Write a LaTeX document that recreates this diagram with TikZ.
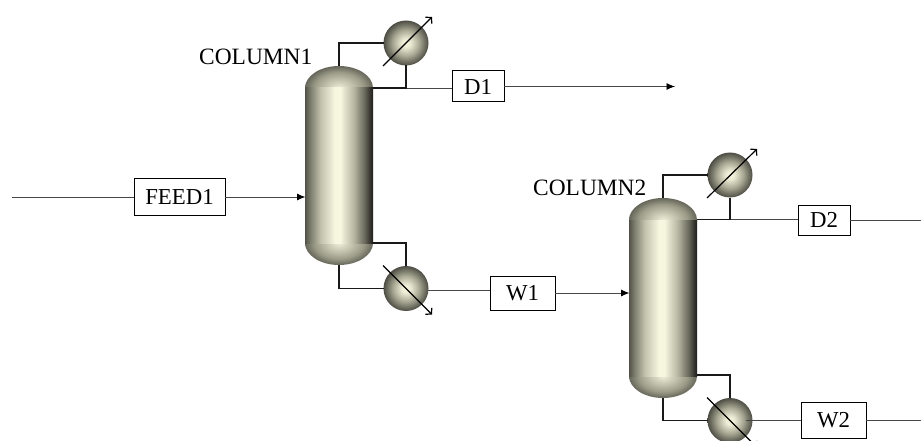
\documentclass[tikz,border=0pt]{standalone}
\usepackage{fontspec}
\setmainfont{Liberation Serif}
\usetikzlibrary{arrows.meta,calc}
\definecolor{ivory}{HTML}{F7F7E0}
\definecolor{rimA}{HTML}{66665A}
\definecolor{midA}{HTML}{A4A490}
\pgfdeclarehorizontalshading{colshade}{100bp}{color(0bp)=(rimA!80!black); color(25bp)=(rimA!80!black); color(29bp)=(rimA!60!midA); color(37bp)=(midA!60!ivory); color(47bp)=(ivory); color(51bp)=(ivory); color(61bp)=(midA!80!ivory); color(69bp)=(rimA); color(73bp)=(rimA!50!black); color(75bp)=(rimA!30!black); color(100bp)=(rimA!30!black)}
\pgfdeclareradialshading{domeshade}{\pgfpointorigin}{color(0bp)=(ivory!90!midA); color(9bp)=(midA!60!ivory); color(18bp)=(midA!85!rimA); color(25bp)=(rimA); color(50bp)=(rimA)}
\pgfdeclareradialshading{ballshade}{\pgfpointorigin}{color(0bp)=(ivory); color(5bp)=(ivory!85!midA); color(15bp)=(midA); color(25bp)=(rimA!75!black); color(50bp)=(rimA!75!black)}
\tikzset{
  x=1pt,y=-1pt,
  stream/.style={draw=black!72,line width=0.9pt},
  pipe/.style={draw=black!90,line width=1.1pt},
  streamto/.style={stream,-{Latex[length=8.5pt,width=7pt,black]}},
  tag/.style={draw=black,line width=1pt,fill=white,inner sep=0pt,outer sep=0pt,font=\fontsize{22.8}{24}\selectfont},
  hx/.style={circle,inner sep=0pt,outer sep=0pt,minimum size=45pt,shading=ballshade},
  vessel/.style={inner sep=0pt,outer sep=0pt,minimum width=67pt,minimum height=199pt},
  duty/.style={draw=black,line width=1.2pt,-{Straight Barb[length=4pt,width=9pt,line width=1.2pt]}},
  lab/.style={inner sep=0pt,font=\fontsize{23.4}{25}\selectfont},
}
\newcommand{\drawvessel}[3]{% x-centre, top y, bottom y
  \begin{scope}
    \clip (#1-34,#2) rectangle (#1+34,#2+22);
    \shade[shading=domeshade] (#1,#2+22) ellipse [x radius=34,y radius=22];
  \end{scope}
  \begin{scope}
    \clip (#1-34,#3-22) rectangle (#1+34,#3);
    \shade[shading=domeshade] (#1,#3-22) ellipse [x radius=34,y radius=22];
  \end{scope}
  \shade[shading=colshade] (#1-34,#2+22) rectangle (#1+34,#3-22);
}
\begin{document}
\begin{tikzpicture}
\path[clip] (0,0) rectangle (921,441);
\fill[white] (0,0) rectangle (921,441);

% anchors
\node[vessel] (col1) at (339,165.5) {};
\node[vessel] (col2) at (663,298) {};
\coordinate (top1) at (372,88);
\coordinate (bot1) at (372,243);
\coordinate (top2) at (697,219.5);
\coordinate (bot2) at (697,375);
\coordinate (feedin) at (12,197);
\coordinate (d1out) at (675,86.5);
\coordinate (d2out) at (921,220);
\coordinate (w2out) at (921,420.5);

\node[hx] (cond1) at (406,43) {};
\node[hx] (reb1) at (406,288.5) {};
\node[hx] (cond2) at (730,175) {};
\node[hx] (reb2) at (730,420.5) {};

\node[tag,minimum width=91pt,minimum height=37pt] (feed) at (179.5,197) {FEED1};
\node[tag,minimum width=52pt,minimum height=31pt] (d1) at (478,86.5) {D1};
\node[tag,minimum width=65pt,minimum height=34pt] (w1) at (522.5,293) {W1};
\node[tag,minimum width=52pt,minimum height=30pt] (d2) at (824,220) {D2};
\node[tag,minimum width=65pt,minimum height=36pt] (w2) at (833.5,420.5) {W2};

\node[lab,anchor=west] (lab1) at (199,57) {COLUMN1};
\node[lab,anchor=west] (lab2) at (533,188) {COLUMN2};

% stream lines
\draw[stream] (feedin) -- (feed.west);
\draw[streamto] (feed.east) -- (col1.west |- feed.east);
\draw[stream] (cond1.south |- top1) -- (top1 -| d1.west);
\draw[streamto] (d1.east) -- (d1out);
\draw[stream] (reb1.-6) -- (reb1.-6 -| w1.west);
\draw[streamto] (w1.east) -- (col2.west |- w1.east);
\draw[stream] (cond2.south |- top2) -- (top2 -| d2.west);
\draw[stream] (d2.east) -- (d2out);
\draw[stream] (w2.east) -- (w2out);

% reflux and boil-up pipes
\draw[pipe] (col1.north) |- (cond1.west);
\draw[pipe] (cond1.south) |- (top1);
\draw[pipe] (bot1) -| (reb1.north);
\draw[pipe] (col1.south) |- (reb1.west);
\draw[pipe] (col2.north) |- (cond2.west);
\draw[pipe] (cond2.south) |- (top2);
\draw[pipe] (bot2) -| (reb2.north);
\draw[pipe] (col2.south) |- (reb2.west);

% vessels
\drawvessel{339}{66}{265}
\drawvessel{663}{198}{398}

% outlet of the second reboiler starts inside the ball
\draw[stream] ($(reb2.center)+(16,0)$) -- (w2.west);

% duty arrows
\draw[duty] ($(cond1.center)+(-23,23)$) -- ($(cond1.center)+(26,-26)$);
\draw[duty] ($(reb1.center)+(-23,-23)$) -- ($(reb1.center)+(26,26)$);
\draw[duty] ($(cond2.center)+(-23,23)$) -- ($(cond2.center)+(27,-26)$);
\draw[duty] ($(reb2.center)+(-23,-23)$) -- ($(reb2.center)+(27,27)$);
\end{tikzpicture}
\end{document}
